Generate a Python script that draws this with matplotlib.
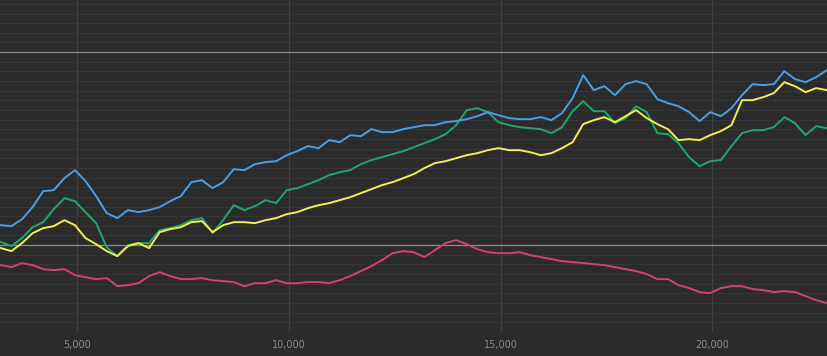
import numpy as np
import matplotlib
matplotlib.use("Agg")
import matplotlib.pyplot as plt
from matplotlib.ticker import MultipleLocator, FuncFormatter

# x positions of the samples (shared by all four series)
x = np.arange(3200, 22701, 250)

# series values
blue = [20.7, 19.7, 26.9, 39.4, 55.9, 57.0, 69.4, 77.7, 66.3, 50.8,
        33.2, 28.0, 36.3, 34.2, 36.3, 39.4, 45.6, 50.8, 65.3, 67.3,
        59.1, 65.3, 78.7, 77.7, 83.9, 86.0, 87.0, 93.2, 97.4, 102.6,
        100.5, 108.8, 106.7, 114.0, 112.9, 120.2, 117.1, 117.1, 120.2, 122.2,
        124.3, 124.3, 127.4, 128.5, 130.5, 133.6, 137.8, 134.7, 131.6, 130.5,
        130.5, 132.6, 129.5, 136.8, 152.3, 176.1, 160.6, 164.7, 155.4, 166.8,
        169.9, 166.8, 151.3, 147.1, 144.0, 137.8, 128.5, 137.8, 133.6, 141.9,
        155.4, 166.8, 165.8, 166.8, 180.3, 172.0, 168.9, 174.0, 181.3]

green = [3.1, -1.0, 7.3, 18.6, 23.8, 37.3, 48.7, 45.6, 34.2, 22.8,
         -2.1, -11.4, 0.0, 2.1, 2.1, 15.5, 17.6, 20.7, 25.9, 28.0,
         12.4, 25.9, 41.4, 36.3, 40.4, 46.6, 43.5, 57.0, 59.1, 63.2,
         67.3, 72.5, 75.6, 77.7, 83.9, 88.1, 91.2, 94.3, 97.4, 101.5,
         105.7, 109.8, 115.0, 124.3, 139.9, 141.9, 137.8, 127.4, 124.3, 122.2,
         121.2, 120.2, 116.0, 122.2, 138.8, 149.2, 138.8, 138.8, 126.4, 131.6,
         144.0, 137.8, 116.0, 115.0, 105.7, 91.2, 81.8, 87.0, 88.1, 102.6,
         116.0, 119.1, 119.1, 122.2, 132.6, 126.4, 114.0, 123.3, 121.2]

yellow = [-3.1, -6.2, 2.1, 12.4, 17.6, 19.7, 25.9, 20.7, 7.3, 1.0,
          -6.2, -11.4, -1.0, 2.1, -3.1, 13.5, 16.6, 18.6, 23.8, 24.9,
          13.5, 20.7, 23.8, 23.8, 22.8, 25.9, 28.0, 32.1, 34.2, 38.3,
          41.4, 43.5, 46.6, 49.7, 53.9, 58.0, 62.2, 65.3, 69.4, 73.6,
          79.8, 85.0, 87.0, 90.1, 93.2, 95.3, 98.4, 100.5, 98.4, 98.4,
          96.3, 93.2, 95.3, 100.5, 106.7, 125.4, 129.5, 132.6, 127.4, 133.6,
          139.9, 131.6, 125.4, 120.2, 108.8, 109.8, 108.8, 114.0, 118.1, 124.3,
          150.2, 150.2, 153.3, 157.5, 168.9, 164.7, 158.5, 162.7, 160.6]

pink = [-20.7, -22.8, -18.6, -20.7, -24.9, -25.9, -24.9, -31.1, -33.2, -35.2,
        -34.2, -42.5, -41.4, -39.4, -32.1, -28.0, -32.1, -35.2, -35.2, -34.2,
        -36.3, -37.3, -38.3, -42.5, -39.4, -39.4, -36.3, -39.4, -39.4, -38.3,
        -38.3, -39.4, -36.3, -32.1, -26.9, -21.8, -15.5, -8.3, -6.2, -7.3,
        -12.4, -5.2, 2.1, 5.2, 1.0, -4.1, -7.3, -8.3, -8.3, -7.3,
        -10.4, -12.4, -14.5, -16.6, -17.6, -18.6, -19.7, -20.7, -22.8, -24.9,
        -26.9, -30.0, -35.2, -35.2, -41.4, -44.5, -48.7, -49.7, -44.5, -42.5,
        -42.5, -45.6, -46.6, -48.7, -47.6, -48.7, -52.8, -57.0, -60.1]

BG = "#2b2b2b"

fig = plt.figure(figsize=(8.28, 3.56), dpi=100, facecolor=BG)
ax = fig.add_axes([0, 24 / 356, 1, 332 / 356])
ax.set_facecolor(BG)

# grid: faint lines every 10 units, brighter reference lines at 0 and 200
ax.yaxis.set_major_locator(MultipleLocator(10))
ax.xaxis.set_major_locator(MultipleLocator(5000))
ax.xaxis.set_minor_locator(MultipleLocator(1000))
ax.grid(True, which="major", axis="y", color="#373737", linewidth=0.7)
ax.grid(True, which="major", axis="x", color="#424242", linewidth=0.8)
ax.grid(True, which="minor", axis="x", color="#2f2f2f", linewidth=0.7)
for level in (0, 200):
    ax.axhline(level, color="#8e8e8e", linewidth=0.9, zorder=2)

ax.plot(x, pink, color="#d4426e", linewidth=1.4, zorder=3)
ax.plot(x, yellow, color="#f2ef4f", linewidth=1.4, zorder=4)
ax.plot(x, green, color="#1fa86c", linewidth=1.4, zorder=3)
ax.plot(x, blue, color="#4a9ee6", linewidth=1.4, zorder=3)

ax.set_xlim(3180, 22730)
ax.set_ylim(-90, 254)

ax.xaxis.set_major_formatter(FuncFormatter(lambda v, p: f"{int(v):,}"))
ax.tick_params(axis="x", which="both", length=0, pad=6, labelsize=7,
               labelcolor="#8a8a8a")
ax.tick_params(axis="y", which="both", length=0, labelleft=False)
for s in ax.spines.values():
    s.set_visible(False)

fig.savefig("out.png", dpi=100, facecolor=BG)
